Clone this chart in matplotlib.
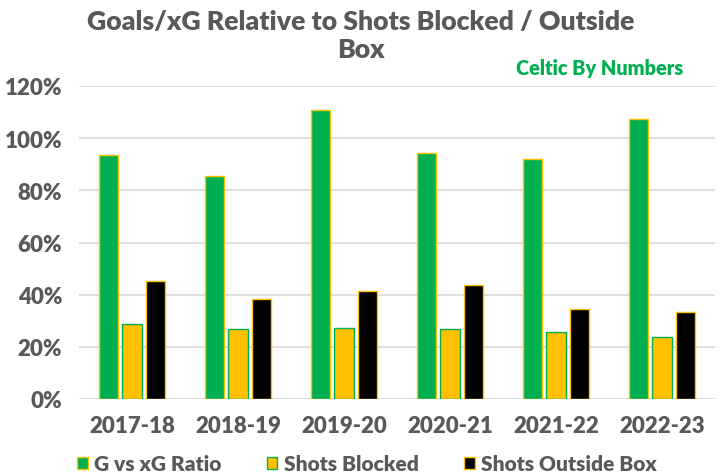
import matplotlib.pyplot as plt
import numpy as np

seasons = ['2017-18', '2018-19', '2019-20', '2020-21', '2021-22', '2022-23']
gVsXg = [93.5, 85.4, 110.8, 94.2, 91.9, 107.3]
shotsBlocked = [28.8, 26.7, 27.3, 26.7, 25.8, 23.8]
shotsOutside = [45.4, 38.5, 41.5, 43.8, 34.6, 33.5]

GREEN = '#00B050'
YELLOW = '#FFC000'
GREY = '#595959'

plt.rcParams['font.family'] = ['Lato', 'DejaVu Sans']
WT = 'heavy'

fig = plt.figure(figsize=(7.22, 4.77), dpi=100)
ax = fig.add_axes([79/722, 1-400/477, 636/722, 313/477])

x = np.arange(len(seasons))
w = 0.18
off = 0.222
ax.bar(x-off, gVsXg, w, color=GREEN, edgecolor=YELLOW, linewidth=1, label='G vs xG Ratio', zorder=3)
ax.bar(x, shotsBlocked, w, color=YELLOW, edgecolor=GREEN, linewidth=1, label='Shots Blocked', zorder=3)
ax.bar(x+off, shotsOutside, w, color='black', edgecolor=YELLOW, linewidth=1, label='Shots Outside Box', zorder=3)

ax.set_xlim(-0.5, len(seasons)-0.5)
ax.set_ylim(0, 120)
ax.set_yticks(range(0, 121, 20))
ax.set_yticklabels([str(v)+'%' for v in range(0, 121, 20)], fontweight=WT)
ax.set_xticks(x)
ax.set_xticklabels(seasons, fontweight=WT)
ax.grid(axis='y', color='#D9D9D9', linewidth=1.2, zorder=0)
for s in ax.spines.values():
  s.set_visible(False)
ax.tick_params(length=0, colors=GREY, labelsize=16)
ax.tick_params(axis='x', pad=11.5)
ax.tick_params(axis='y', pad=12)

fig.text(0.5, 1-22/477, 'Goals/xG Relative to Shots Blocked / Outside', ha='center', va='center',
         fontsize=19.2, fontweight=WT, color=GREY)
fig.text(0.5, 1-50/477, 'Box', ha='center', va='center', fontsize=19.2, fontweight=WT, color=GREY)
fig.text(600/722, 1-69/477, 'Celtic By Numbers', ha='center', va='center',
         fontsize=14.3, fontweight=WT, color=GREEN)

leg = fig.legend(loc='center', bbox_to_anchor=(367/722, 1-465/477), ncol=3, frameon=False,
                 handlelength=0.5, handleheight=0.5, handletextpad=0.3, columnspacing=2.2,
                 prop={'weight': WT, 'size': 15})
for t in leg.get_texts():
  t.set_color(GREY)

fig.savefig('out.png', dpi=100)
